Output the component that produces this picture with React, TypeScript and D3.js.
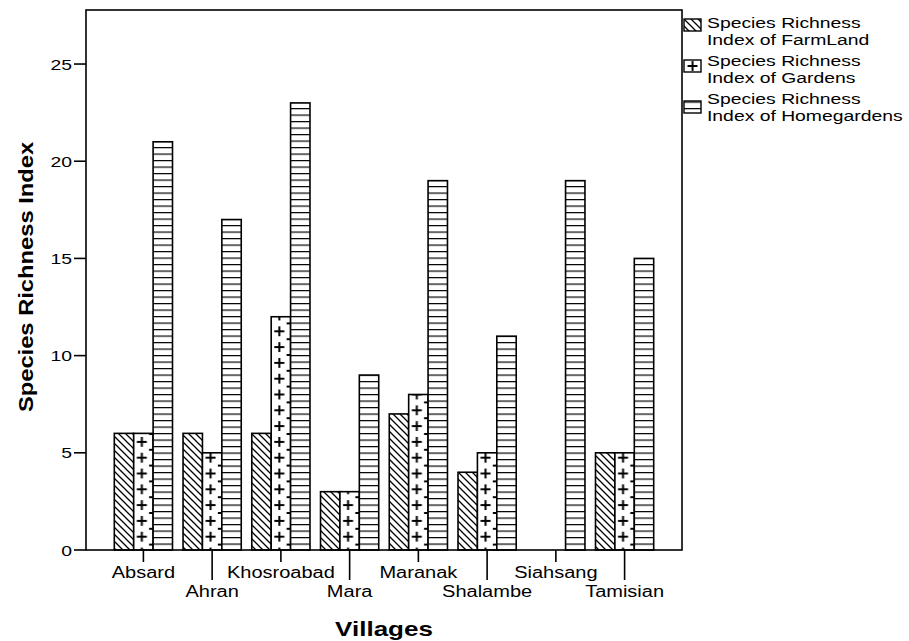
import React from "react";
import * as d3 from "d3";

const villages = ["Absard", "Ahran", "Khosroabad", "Mara", "Maranak", "Shalambe", "Siahsang", "Tamisian"];
const farmland = [6, 6, 6, 3, 7, 4, 0, 5];
const gardens = [6, 5, 12, 3, 8, 5, 0, 5];
const homegardens = [21, 17, 23, 9, 19, 11, 19, 15];
const seriesNames = [
  ["Species Richness", "Index of FarmLand"],
  ["Species Richness", "Index of Gardens"],
  ["Species Richness", "Index of Homegardens"],
];
const yTicks = [0, 5, 10, 15, 20, 25];

const W = 909;
const H = 641;
const plot = { left: 86, right: 682, top: 10, bottom: 550 };
const FONT = "Arial, 'Liberation Sans', Helvetica, sans-serif";

// stretched text, the original's glyphs are wider than Arial
const SText = ({ x, y, sx = 1.25, size = 16, anchor = "start", bold = false, rotate = 0, children }: any) => (
  <text
    transform={`translate(${x},${y}) rotate(${rotate}) scale(${sx},1)`}
    textAnchor={anchor}
    fontFamily={FONT}
    fontSize={size}
    fontWeight={bold ? "bold" : "normal"}
    fill="#000"
  >
    {children}
  </text>
);

const PLUS_H = 15.8;

const App = () => {
  const x = d3
    .scaleBand<string>()
    .domain(villages)
    .range([plot.left, plot.right])
    .paddingInner(0)
    .paddingOuter(0.335);

  const y = d3.scaleLinear().domain([0, 27.78]).range([plot.bottom, plot.top]);

  const bw = 19.4;
  const series = [farmland, gardens, homegardens];
  const fills = ["url(#diag)", "", "url(#hlines)"];

  const plusPattern = (id: string, px: number, py: number, w: number) => (
    <pattern
      key={id}
      id={id}
      patternUnits="userSpaceOnUse"
      x={px}
      y={py}
      width={w}
      height={PLUS_H}
    >
      <rect width={w} height={PLUS_H} fill="#fff" />
      <path
        d={`M${w * 0.42 - 5},${PLUS_H / 2} h10 M${w * 0.42},${PLUS_H / 2 - 5} v10`}
        stroke="#000"
        strokeWidth={2}
      />
      <path d={`M${w - 4},0 h4 M${w - 4},${PLUS_H} h4`} stroke="#000" strokeWidth={1.8} />
    </pattern>
  );

  const legendX = 684;

  return (
    <svg width={W} height={H} style={{ position: "absolute", left: 0, top: 0, background: "#fff" }}>
      <defs>
        <pattern id="diag" patternUnits="userSpaceOnUse" width={7} height={7}>
          <rect width={7} height={7} fill="#fff" />
          <path d="M0,0 L7,7 M-2,5 L2,9 M5,-2 L9,2" stroke="#000" strokeWidth={1.3} />
        </pattern>
        <pattern id="hlines" patternUnits="userSpaceOnUse" y={plot.bottom} width={10} height={6.5}>
          <rect width={10} height={6.5} fill="#fff" />
          <path d="M0,0 H10" stroke="#000" strokeWidth={2.4} />
        </pattern>
        {villages.map((v) => {
          const cx = (x(v) ?? 0) + x.bandwidth() / 2;
          const bx = cx - bw / 2;
          return plusPattern(`plus-${v}`, bx, plot.bottom - 13.3 - PLUS_H / 2, bw);
        })}
        {plusPattern("plus-legend", legendX, 60 + 6 - PLUS_H / 2, 17 / 0.42 / 2)}
      </defs>

      {/* bars */}
      {villages.map((v, i) => {
        const cx = (x(v) ?? 0) + x.bandwidth() / 2;
        return (
          <g key={v}>
            {series.map((s, k) => {
              const val = s[i];
              if (val <= 0) return null;
              const bx = cx - 1.5 * bw + k * bw;
              return (
                <rect
                  key={k}
                  x={bx}
                  y={y(val)}
                  width={bw}
                  height={y(0) - y(val)}
                  fill={k === 1 ? `url(#plus-${v})` : fills[k]}
                  stroke="#000"
                  strokeWidth={1.6}
                />
              );
            })}
          </g>
        );
      })}

      {/* frame */}
      <rect
        x={plot.left}
        y={plot.top}
        width={plot.right - plot.left}
        height={plot.bottom - plot.top}
        fill="none"
        stroke="#000"
        strokeWidth={1.6}
      />

      {/* y axis */}
      {yTicks.map((t) => (
        <g key={t}>
          <line x1={plot.left - 12} x2={plot.left} y1={y(t)} y2={y(t)} stroke="#000" strokeWidth={1.6} />
          <SText x={plot.left - 14} y={y(t) + 5.5} size={15.5} anchor="end">
            {t}
          </SText>
        </g>
      ))}

      {/* x axis */}
      {villages.map((v, i) => {
        const cx = (x(v) ?? 0) + x.bandwidth() / 2;
        const odd = i % 2 === 1;
        return (
          <g key={v}>
            <line
              x1={cx}
              x2={cx}
              y1={plot.bottom}
              y2={plot.bottom + (odd ? 30 : 12)}
              stroke="#000"
              strokeWidth={1.6}
            />
            <SText x={cx} y={odd ? 597 : 578} anchor="middle">
              {v}
            </SText>
          </g>
        );
      })}

      {/* axis titles */}
      <SText x={33} y={277} rotate={-90} sx={1.13} size={21} bold anchor="middle">
        Species Richness Index
      </SText>
      <SText x={384} y={636} sx={1.3} size={20} bold anchor="middle">
        Villages
      </SText>

      {/* legend */}
      {seriesNames.map((lines, i) => {
        const sy = 19 + i * 41;
        const ty = 28 + i * 38;
        const fill = i === 0 ? "url(#diag)" : i === 1 ? "url(#plus-legend)" : "url(#hlines)";
        return (
          <g key={i}>
            <rect x={legendX} y={sy} width={17} height={12} fill={fill} stroke="#000" strokeWidth={1.4} />
            <SText x={707} y={ty} size={15} sx={1.29}>
              {lines[0]}
            </SText>
            <SText x={707} y={ty + 17.3} size={15} sx={1.29}>
              {lines[1]}
            </SText>
          </g>
        );
      })}
    </svg>
  );
};

export default App;
